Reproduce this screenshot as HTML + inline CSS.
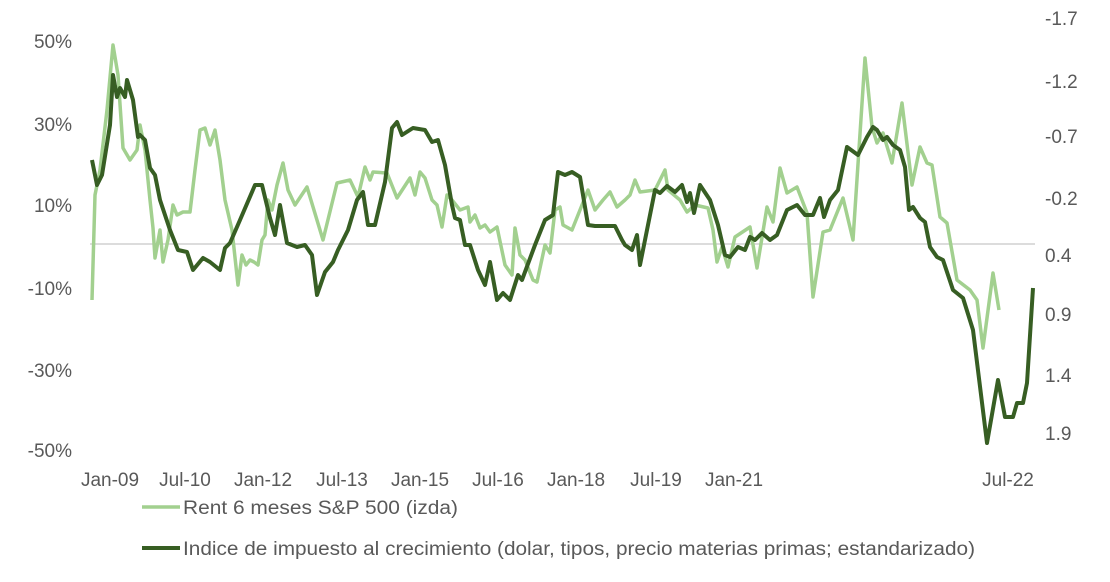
<!DOCTYPE html>
<html><head><meta charset="utf-8"><style>
body{margin:0;background:#fff}
svg text{font-family:"Liberation Sans",sans-serif;fill:#595959}
</style></head><body>
<svg width="1110" height="577" viewBox="0 0 1110 577" xmlns="http://www.w3.org/2000/svg">
<rect width="1110" height="577" fill="#fff"/>
<line x1="90" y1="244" x2="1035" y2="244" stroke="#d0d0d0" stroke-width="1.5"/>
<g font-size="19">
<text x="72" y="48" text-anchor="end">50%</text>
<text x="72" y="131" text-anchor="end">30%</text>
<text x="72" y="212" text-anchor="end">10%</text>
<text x="72" y="295" text-anchor="end">-10%</text>
<text x="72" y="377" text-anchor="end">-30%</text>
<text x="72" y="457" text-anchor="end">-50%</text>
<text x="1045" y="25">-1.7</text>
<text x="1045" y="88">-1.2</text>
<text x="1045" y="143">-0.7</text>
<text x="1045" y="205">-0.2</text>
<text x="1045" y="262">0.4</text>
<text x="1045" y="321">0.9</text>
<text x="1045" y="382">1.4</text>
<text x="1045" y="440">1.9</text>
<g text-anchor="middle">
<text x="110" y="486">Jan-09</text>
<text x="185" y="486">Jul-10</text>
<text x="263" y="486">Jan-12</text>
<text x="342" y="486">Jul-13</text>
<text x="420" y="486">Jan-15</text>
<text x="498" y="486">Jul-16</text>
<text x="576" y="486">Jan-18</text>
<text x="656" y="486">Jul-19</text>
<text x="734" y="486">Jan-21</text>
<text x="1008" y="486">Jul-22</text>
</g></g>
<polyline fill="none" stroke="#a2d08f" stroke-width="3.5" stroke-linejoin="round" points="92,300 95,195 100,170 107,110 113,45 118,75 123,148 130,160 137,150 140,125 145,150 150,200 153,228 155,258 160,230 163,262 168,240 173,205 177,215 183,212 190,212 195,170 200,130 205,128 210,145 215,130 220,160 225,200 232,230 238,285 242,255 246,265 250,260 254,262 258,265 262,240 265,235 268,200 272,210 277,185 283,163 288,190 295,205 307,187 323,240 337,183 350,180 358,197 365,167 370,180 373,172 387,173 397,198 410,178 415,195 420,172 425,178 432,200 437,205 442,227 447,195 452,200 460,210 468,207 470,222 475,215 480,228 485,225 490,232 497,227 505,265 512,275 515,228 520,255 525,260 533,280 537,282 545,245 550,253 555,210 560,207 563,225 572,230 580,210 588,190 595,210 603,200 610,192 617,207 625,200 630,195 635,180 640,192 655,190 665,170 668,190 680,200 687,212 695,205 708,208 713,230 717,262 722,247 728,267 735,237 750,227 757,268 767,207 773,222 780,168 787,193 797,187 807,213 813,297 823,232 830,230 843,198 853,240 865,58 872,127 877,143 883,133 892,163 902,103 912,185 920,147 927,163 932,165 940,217 947,223 957,280 970,290 977,300 983,348 993,273 999,310"/>
<polyline fill="none" stroke="#375e23" stroke-width="4" stroke-linejoin="round" points="92,160 97,185 102,175 110,125 113,75 117,97 120,88 125,97 127,80 133,100 138,137 140,135 145,140 150,168 155,175 160,200 170,230 178,250 187,252 193,270 203,258 210,262 220,270 225,248 230,243 240,220 255,185 262,185 270,218 275,235 280,205 287,243 297,247 305,245 312,255 317,295 325,272 333,262 338,250 348,230 357,200 363,192 368,225 375,225 385,182 392,128 397,122 402,135 413,128 425,130 432,142 438,140 445,165 452,205 455,218 460,220 465,245 470,245 478,270 485,285 490,262 497,300 503,293 510,300 518,275 522,280 535,245 545,220 553,215 558,172 565,175 572,172 580,177 588,225 595,226 615,226 622,240 625,245 632,250 637,235 640,265 655,190 660,193 667,186 675,192 682,185 687,202 690,193 694,213 700,185 710,200 718,225 725,255 730,257 738,247 745,250 750,237 755,240 762,233 770,240 777,235 787,210 797,205 805,215 813,215 820,198 824,217 830,200 838,190 847,147 858,155 867,137 873,127 877,130 883,140 887,137 893,145 900,150 905,167 909,210 913,207 920,218 925,222 930,247 937,257 943,260 953,290 963,298 973,330 987,443 998,380 1005,417 1013,417 1017,403 1023,403 1027,383 1033,288"/>
<line x1="142" y1="507" x2="180" y2="507" stroke="#a2d08f" stroke-width="3.5"/>
<text x="183" y="514" font-size="19" textLength="275" lengthAdjust="spacingAndGlyphs">Rent 6 meses S&amp;P 500 (izda)</text>
<line x1="142" y1="548" x2="180" y2="548" stroke="#375e23" stroke-width="4"/>
<text x="183" y="555" font-size="19" textLength="792" lengthAdjust="spacingAndGlyphs">Indice de impuesto al crecimiento (dolar, tipos, precio materias primas; estandarizado)</text>
</svg>
</body></html>
